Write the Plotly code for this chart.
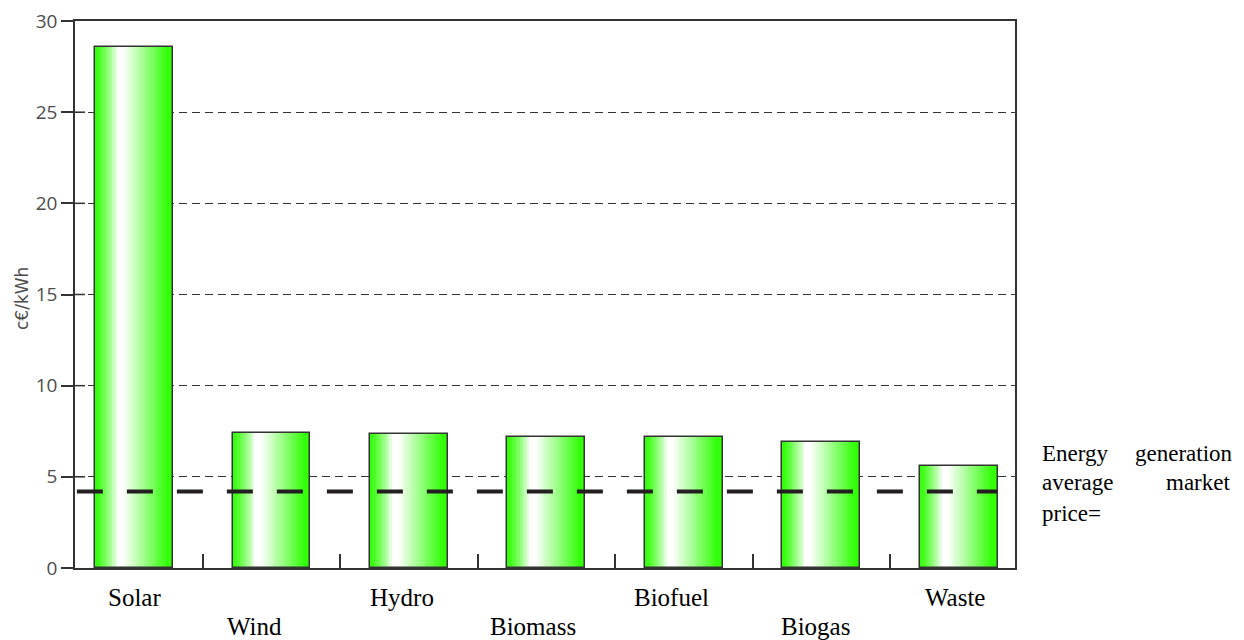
import plotly.graph_objs as go

# data
sources = ['Solar', 'Wind', 'Hydro', 'Biomass', 'Biofuel', 'Biogas', 'Waste']
cost_c_per_kwh = [28.6, 7.4, 7.35, 7.2, 7.2, 6.9, 5.6]
market_price = 4.2
y_ticks = [0, 5, 10, 15, 20, 25, 30]
side_note = ['Energy', 'generation', 'average', 'market', 'price=']

BAR_W = 0.567
N_SLICES = 32
GREEN = (50, 255, 8)
label_xshift = [0, -17, -7, -13, -12, -6, -4]

xpos = list(range(len(sources)))


def shade(p):
    # horizontal "cylinder" gradient: green -> white (at ~32%) -> green
    if p < 0.30:
        s = (p / 0.30) ** 1.3
    elif p < 0.36:
        s = 1.0
    elif p < 0.93:
        s = 1 - (p - 0.36) / 0.57
    else:
        s = 0.0
    r, g, b = [int(c + (255 - c) * s) for c in GREEN]
    return f'rgb({r},{g},{b})'


fig = go.Figure()

step = BAR_W / N_SLICES
for k in range(N_SLICES):
    off = -BAR_W / 2 + k * step
    w = min(step * 1.25, BAR_W / 2 - off)
    fig.add_trace(go.Bar(
        x=xpos, y=cost_c_per_kwh, width=w, offset=off,
        marker=dict(color=shade((k + 0.5) / N_SLICES), line=dict(width=0)),
        hoverinfo='skip', showlegend=False,
    ))

# outline of each bar
fig.add_trace(go.Bar(
    x=xpos, y=cost_c_per_kwh, width=BAR_W,
    marker=dict(color='rgba(0,0,0,0)', line=dict(color='#333333', width=1.5)),
    hovertext=sources, hoverinfo='text+y', showlegend=False,
))

# the y ticks cross the axis line: add the inner half as short shapes
for v in y_ticks[1:-1]:
    fig.add_shape(type='line', xref='paper', xsizemode='pixel', xanchor=0, x0=0, x1=10,
                  yref='y', y0=v, y1=v, line=dict(color='#333333', width=1.5))

# average market price
fig.add_shape(type='line', xref='paper', yref='y', x0=0.002, x1=0.981,
              y0=market_price, y1=market_price,
              line=dict(color='#231f20', width=4, dash='26px,24px'))

# category labels, alternating rows
for i, name in enumerate(sources):
    fig.add_annotation(x=i, y=0, xref='x', yref='paper', text=name, showarrow=False,
                       yanchor='middle', yshift=-29 if i % 2 == 0 else -58,
                       xshift=label_xshift[i],
                       font=dict(family='Liberation Serif', size=25, color='black'))

# justified note at the right
note_font = dict(family='Liberation Serif', size=23, color='black')
note_pos = [(1.0266, 0.2102, 'left'), (1.2340, 0.2102, 'right'),
            (1.0266, 0.1554, 'left'), (1.2309, 0.1554, 'right'),
            (1.0266, 0.1005, 'left')]
for word, (nx, ny, anc) in zip(side_note, note_pos):
    fig.add_annotation(x=nx, y=ny, xref='paper', yref='paper', text=word, showarrow=False,
                       xanchor=anc, yanchor='middle', font=note_font)

# y axis title
fig.add_annotation(x=-0.0564, y=0.4936, xref='paper', yref='paper', text='c€/kWh',
                   textangle=-90, showarrow=False, xanchor='center', yanchor='middle',
                   font=dict(family='DejaVu Sans', size=17, color='#4d4d4d'))

# page body has an 8px margin, so the figure is sized to fit inside it
fig.update_layout(
    width=1236, height=632,
    margin=dict(l=67, r=229, t=13, b=72),
    paper_bgcolor='white', plot_bgcolor='white',
    barmode='overlay', bargap=0,
    xaxis=dict(range=[-0.43, 6.41], tickvals=[x + 0.5 for x in xpos[:-1]],
               ticks='inside', ticklen=14, tickwidth=1.5, tickcolor='#333333',
               showticklabels=False, showgrid=False, zeroline=False, automargin=False,
               showline=True, linecolor='#333333', linewidth=1.5, mirror=True),
    yaxis=dict(range=[0, 30], tickvals=y_ticks, ticks='outside', ticklen=12,
               tickwidth=1.5, tickcolor='#333333', ticklabeloverflow='allow',
               tickfont=dict(family='Open Sans', size=19, color='#4d4d4d'),
               showgrid=True, gridcolor='#333333', gridwidth=1.2, griddash='8px,5px',
               zeroline=False, showline=True, linecolor='#333333', linewidth=1.5,
               mirror=True, automargin=False),
)

fig.write_html('out.html')
